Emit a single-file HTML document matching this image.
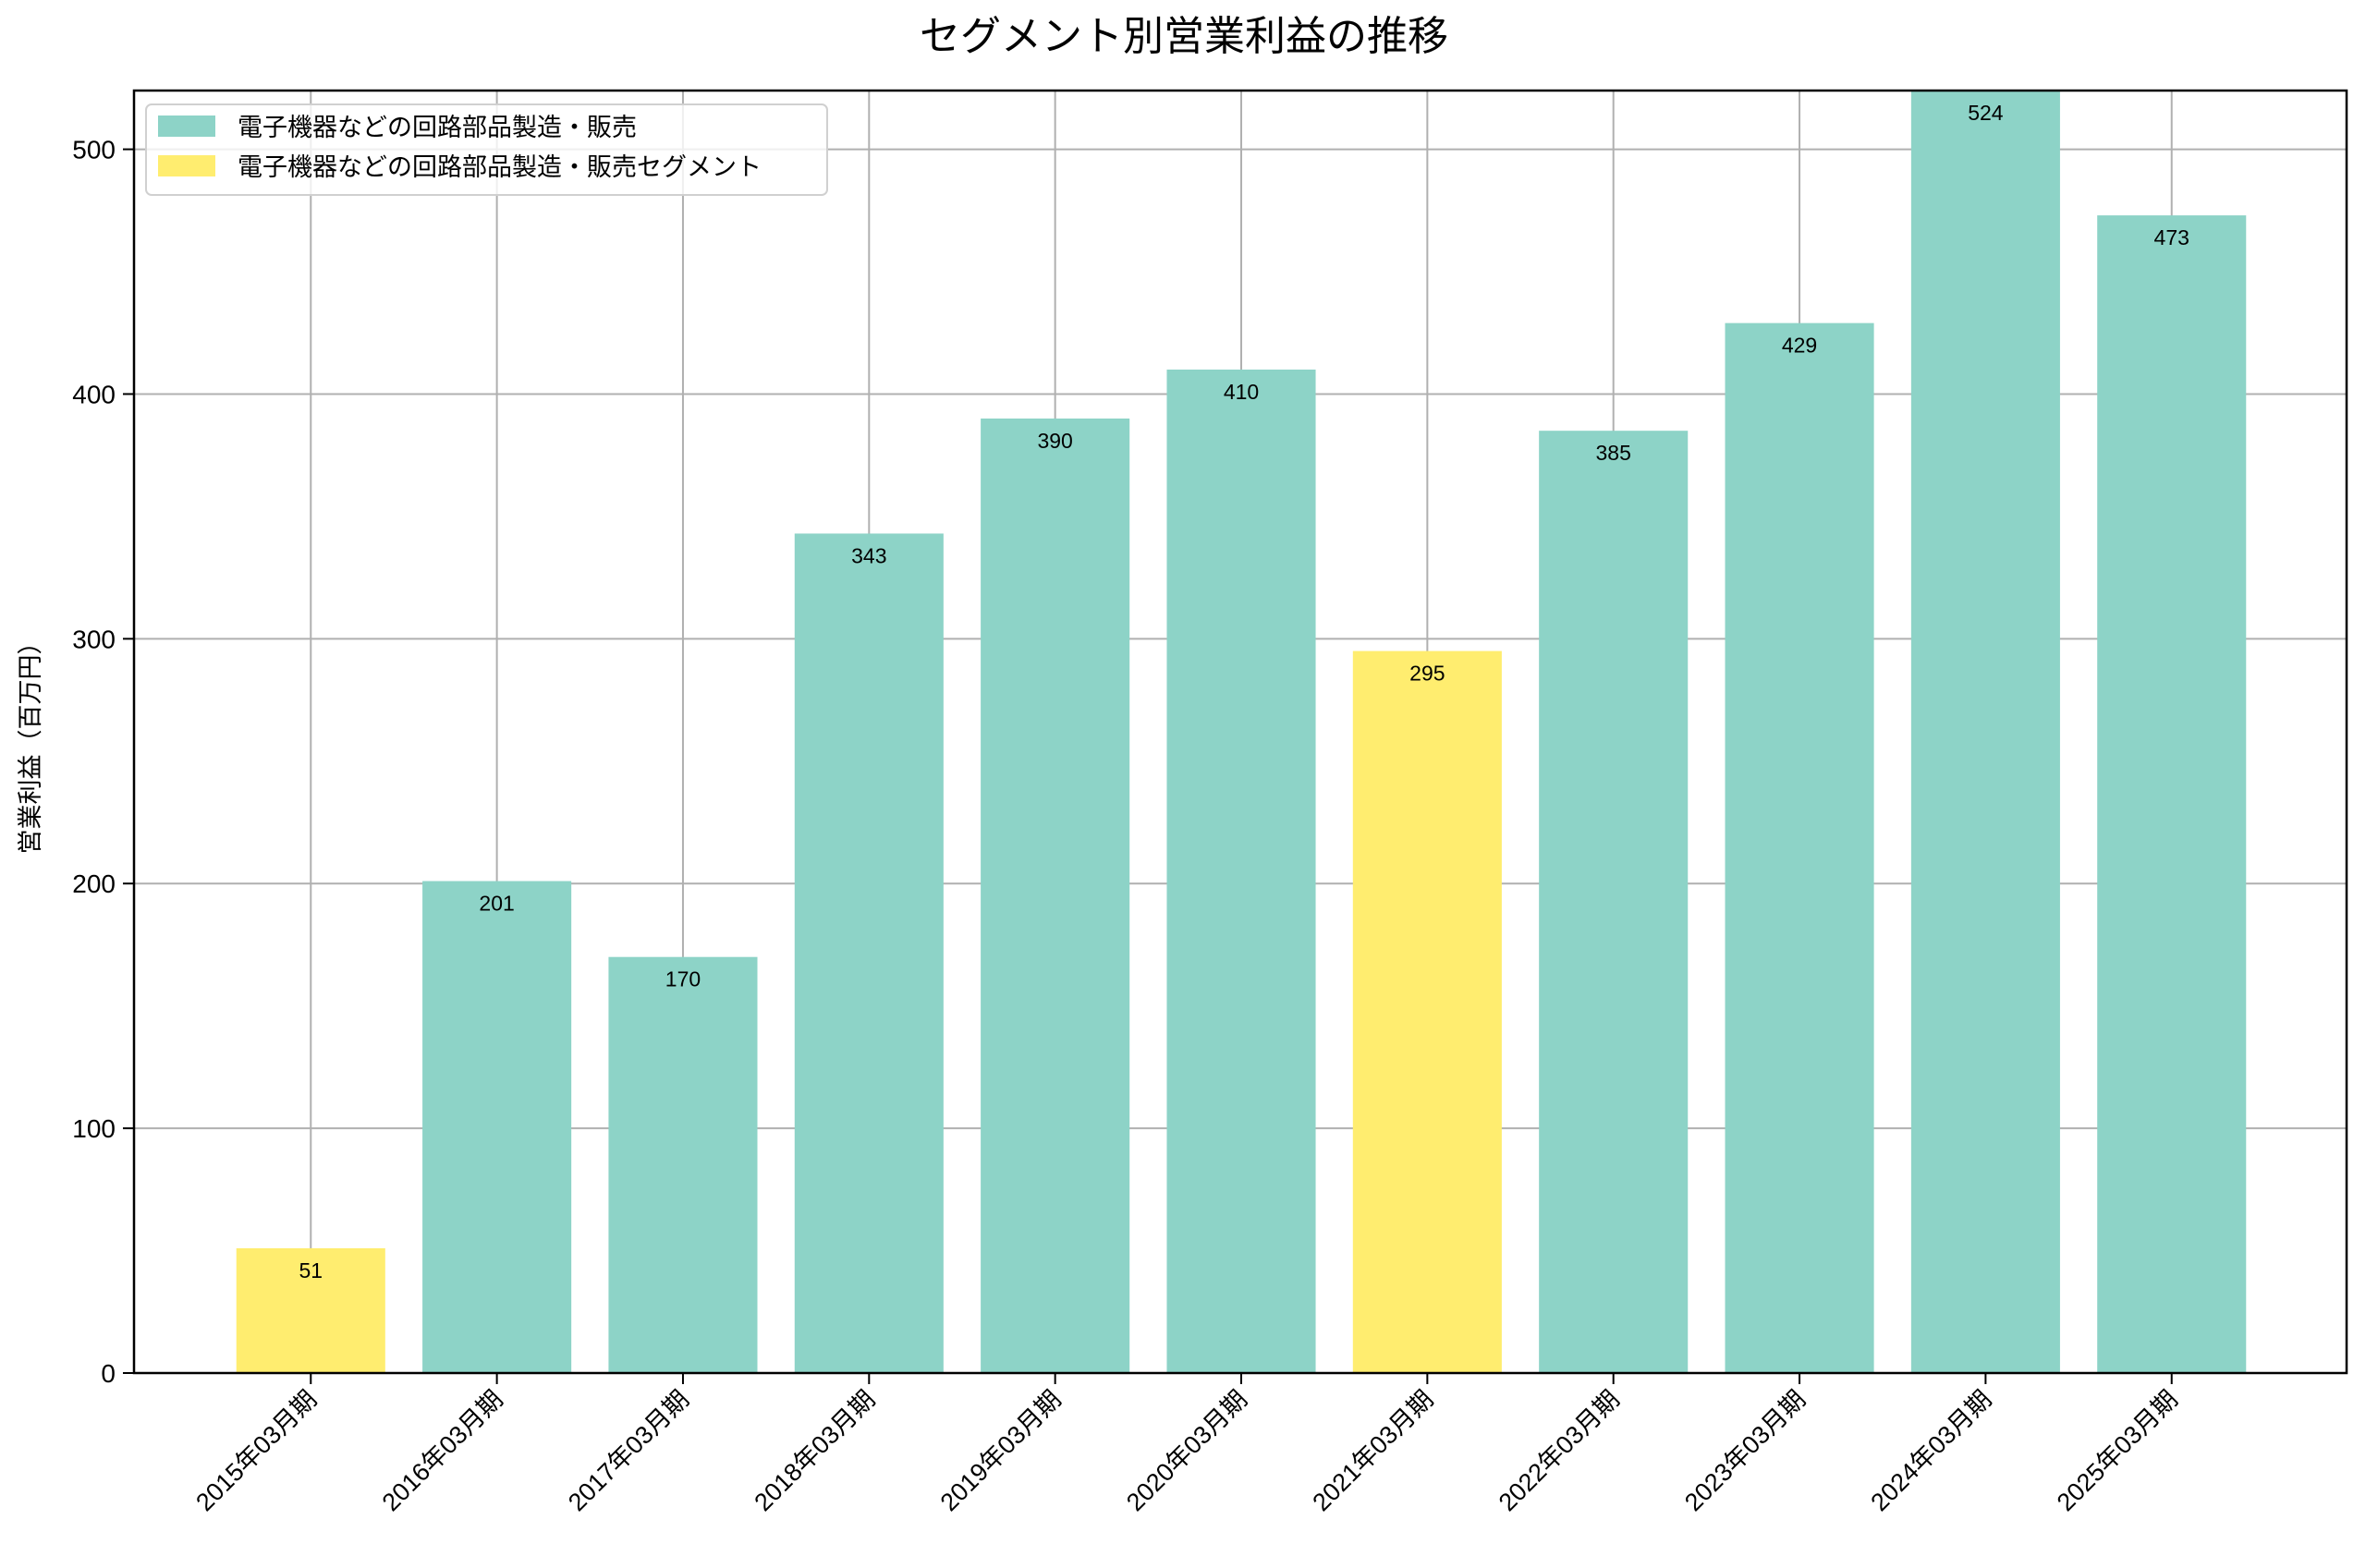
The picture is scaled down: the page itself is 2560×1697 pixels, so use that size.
<!DOCTYPE html>
<html><head><meta charset="utf-8">
<style>
html,body{margin:0;padding:0;background:#fff;}
svg{display:block;font-family:"Liberation Sans","Noto Sans CJK JP",sans-serif;}
</style></head>
<body>
<svg id="chart" width="2560" height="1697" viewBox="0 0 2560 1697" xmlns="http://www.w3.org/2000/svg">
<text x="1281" y="54" font-size="44" text-anchor="middle" fill="#000">セグメント別営業利益の推移</text>
<text transform="translate(42,803) rotate(-90)" font-size="27" text-anchor="middle" fill="#000">営業利益（百万円）</text>
<g id="grid"></g>
<g id="bars"></g>
<g id="vals"></g>
<g id="axes"></g>
<g>
<rect x="158" y="113" width="737" height="98" rx="6" fill="#fff" fill-opacity="0.8" stroke="#d0d0d0" stroke-width="2"/>
<rect x="171" y="125" width="62" height="23" fill="#8dd3c7"/>
<text x="257" y="147" font-size="27" fill="#000">電子機器などの回路部品製造・販売</text>
<rect x="171" y="168" width="62" height="23" fill="#ffed6f"/>
<text x="257" y="190" font-size="27" fill="#000">電子機器などの回路部品製造・販売セグメント</text>
</g>
</svg>
<script>
const categories = ["2015年03月期","2016年03月期","2017年03月期","2018年03月期","2019年03月期","2020年03月期","2021年03月期","2022年03月期","2023年03月期","2024年03月期","2025年03月期"];
const values = [51,201,170,343,390,410,295,385,429,524,473];
const seriesIndex = [1,0,0,0,0,0,1,0,0,0,0];
const yTicks = [0,100,200,300,400,500];
const colors = ["#8dd3c7","#ffed6f"];

const NS="http://www.w3.org/2000/svg";
const L=145,R=2539,T=98,B=1486;
const xMin=-0.95,xMax=categories.length-1+0.94;
const yMax=Math.max(...values);
const xs=i=>L+(i-xMin)/(xMax-xMin)*(R-L);
const ys=v=>B-v/yMax*(B-T);
const bw=0.8*(R-L)/(xMax-xMin);
function mk(tag,attrs,parent){const e=document.createElementNS(NS,tag);for(const k in attrs)e.setAttribute(k,attrs[k]);parent.appendChild(e);return e;}
const grid=document.getElementById('grid'),bars=document.getElementById('bars'),vals=document.getElementById('vals'),axes=document.getElementById('axes');

categories.forEach((c,i)=>{
  const x=xs(i);
  const b=mk('rect',{x:x-bw/2,y:ys(values[i]),width:bw,height:B-ys(values[i]),fill:colors[seriesIndex[i]]},bars);
  
  
  const g=mk('line',{x1:x,x2:x,y1:T,y2:B,stroke:'#b0b0b0','stroke-width':2},grid);
  
  
  const t=mk('text',{x:x,y:ys(values[i])+32,'font-size':23,'text-anchor':'middle',fill:'#000'},vals);
  t.textContent=values[i];
  
  
  const tk=mk('line',{x1:x,x2:x,y1:B,y2:B+12,stroke:'#000','stroke-width':2},axes);
  
  
  const lb=mk('text',{transform:`translate(${x+8},${B+30}) rotate(-45)`,'font-size':27,'text-anchor':'end',fill:'#000'},axes);
  lb.textContent=c;
  
  
});
yTicks.forEach(v=>{
  const y=ys(v);
  const g=mk('line',{x1:L,x2:R,y1:y,y2:y,stroke:'#b0b0b0','stroke-width':2},grid);
  
  
  const tk=mk('line',{x1:L-12,x2:L,y1:y,y2:y,stroke:'#000','stroke-width':2},axes);
  
  
  const lb=mk('text',{x:L-20,y:y+10,'font-size':28,'text-anchor':'end',fill:'#000'},axes);
  lb.textContent=v;
  
  
});
const frame=mk('rect',{x:L,y:T,width:R-L,height:B-T,fill:'none',stroke:'#000','stroke-width':2.5},axes);


</script>
</body></html>
